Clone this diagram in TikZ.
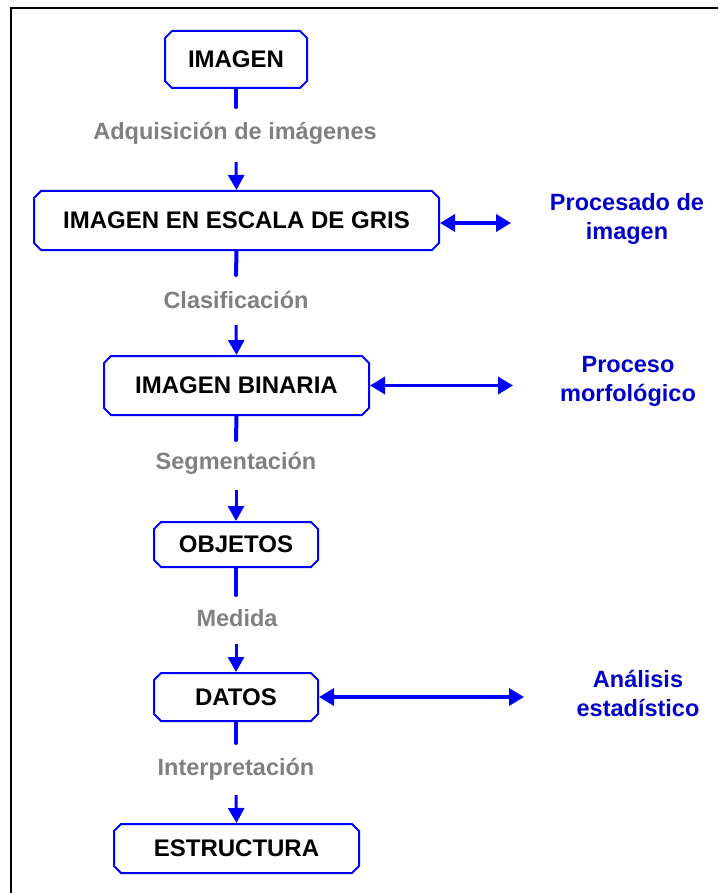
\documentclass[tikz,border=0pt]{standalone}
\usepackage{fontspec}
\setmainfont{Liberation Sans}
\usetikzlibrary{shapes.misc,arrows.meta}
\definecolor{boxblue}{RGB}{0,0,255}
\definecolor{sideblue}{RGB}{0,0,200}
\definecolor{labgray}{RGB}{128,128,128}
\tikzset{
  stepbox/.style={chamfered rectangle, chamfered rectangle xsep=3.5pt, chamfered rectangle ysep=3.5pt,
    draw=boxblue, line width=2pt, inner sep=0pt, align=center,
    font=\fontsize{24}{29}\selectfont\bfseries, text=black},
  steplabel/.style={font=\fontsize{23.5}{29}\selectfont\bfseries, text=labgray, inner sep=0pt},
  sidelabel/.style={font=\fontsize{23.5}{29}\selectfont\bfseries, text=sideblue, align=center, inner sep=0pt},
  stem/.style={draw=boxblue, line width=4pt, line cap=round},
  flow/.style={draw=boxblue, line width=3pt, -{Triangle[length=15pt,width=16pt]}},
  both/.style={draw=boxblue, line width=3.5pt, {Triangle[length=15pt,width=17pt]}-{Triangle[length=15pt,width=17pt]}}
}
\begin{document}
\begin{tikzpicture}[x=1pt,y=-1pt]
\useasboundingbox (0,0) rectangle (718,893);
\coordinate (fb) at (11,893);
\coordinate (fc) at (11,8);
\coordinate (fr) at (718,8);
\draw[line width=2.5pt] (fb) -- (fc) -- (fr);

\node[stepbox, minimum width=142pt, minimum height=57pt] (b1) at (236,59.5) {IMAGEN};
\node[stepbox, minimum width=405pt, minimum height=59pt] (b2) at (236.5,220.5) {IMAGEN EN ESCALA DE GRIS};
\node[stepbox, minimum width=265pt, minimum height=59pt] (b3) at (236.5,385.5) {IMAGEN BINARIA};
\node[stepbox, minimum width=164pt, minimum height=45pt] (b4) at (236,544.5) {OBJETOS};
\node[stepbox, minimum width=164pt, minimum height=48pt] (b5) at (236,697) {DATOS};
\node[stepbox, minimum width=245pt, minimum height=49pt] (b6) at (236.5,848.5) {ESTRUCTURA};

\node[steplabel] (l1) at (235,133) {Adquisición de imágenes};
\node[steplabel] (l2) at (236,300) {Clasificación};
\node[steplabel] (l3) at (236,463) {Segmentación};
\node[steplabel] (l4) at (237,618) {Medida};
\node[steplabel] (l5) at (236,769) {Interpretación};

\coordinate (s1) at (236,107);
\coordinate (a1) at (236,162);
\coordinate (s2) at (236,275);
\coordinate (a2) at (236,325);
\coordinate (s3) at (236,440);
\coordinate (a3) at (236,490);
\coordinate (s4) at (236,595);
\coordinate (a4) at (236,644);
\coordinate (s5) at (236,743);
\coordinate (a5) at (236,795);

\draw[stem] (b1.south) -- (s1);
\draw[flow] (a1) -- (b2.north);
\draw[stem] (b2.south) -- (s2);
\draw[flow] (a2) -- (b3.north);
\draw[stem] (b3.south) -- (s3);
\draw[flow] (a3) -- (b4.north);
\draw[stem] (b4.south) -- (s4);
\draw[flow] (a4) -- (b5.north);
\draw[stem] (b5.south) -- (s5);
\draw[flow] (a5) -- (b6.north);

\node[sidelabel] (t1) at (627,219) {Procesado de\\imagen};
\node[sidelabel] (t2) at (628,381) {Proceso\\morfológico};
\node[sidelabel] (t3) at (638,693) {Análisis\\estadístico};

\coordinate (e1) at (511,223);
\coordinate (e2) at (513,385.5);
\coordinate (e3) at (524,697);
\draw[both] (b2.east |- e1) -- (e1);
\draw[both] (b3.east) -- (e2);
\draw[both] (b5.east) -- (e3);
\end{tikzpicture}
\end{document}
